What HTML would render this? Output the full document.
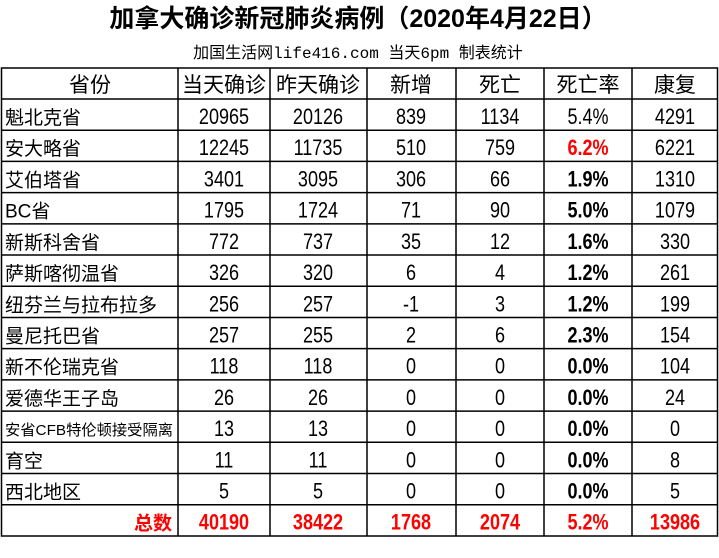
<!DOCTYPE html>
<html><head><meta charset="utf-8"><style>
html,body{margin:0;padding:0;background:#fff;}
svg{display:block;}
text{font-family:"Liberation Sans","Noto Sans CJK SC",sans-serif;}
</style></head><body>
<svg width="719" height="558" viewBox="0 0 719 558" xmlns="http://www.w3.org/2000/svg">
<text x="358" y="27" font-size="25" font-weight="bold" text-anchor="middle" fill="#000">加拿大确诊新冠肺炎病例（2020年4月22日）</text>
<text x="358" y="58" font-size="16" text-anchor="middle" fill="#000" style="font-family:'Liberation Mono','Noto Sans CJK SC',monospace">加国生活网life416.com 当天6pm 制表统计</text>
<g stroke="#000" stroke-width="1.5" fill="none">
<rect x="1.5" y="68" width="716" height="468"/>
<line x1="178" y1="68" x2="178" y2="536"/>
<line x1="270" y1="68" x2="270" y2="536"/>
<line x1="367" y1="68" x2="367" y2="536"/>
<line x1="456" y1="68" x2="456" y2="536"/>
<line x1="544" y1="68" x2="544" y2="536"/>
<line x1="632" y1="68" x2="632" y2="536"/>
</g>
<g id="rows"></g>
</svg>
<script>
var data=[
["魁北克省","20965","20126","839","1134","5.4%","4291"],
["安大略省","12245","11735","510","759","6.2%","6221"],
["艾伯塔省","3401","3095","306","66","1.9%","1310"],
["BC省","1795","1724","71","90","5.0%","1079"],
["新斯科舍省","772","737","35","12","1.6%","330"],
["萨斯喀彻温省","326","320","6","4","1.2%","261"],
["纽芬兰与拉布拉多","256","257","-1","3","1.2%","199"],
["曼尼托巴省","257","255","2","6","2.3%","154"],
["新不伦瑞克省","118","118","0","0","0.0%","104"],
["爱德华王子岛","26","26","0","0","0.0%","24"],
["安省CFB特伦顿接受隔离","13","13","0","0","0.0%","0"],
["育空","11","11","0","0","0.0%","8"],
["西北地区","5","5","0","0","0.0%","5"],
["总数","40190","38422","1768","2074","5.2%","13986"]];
var cx=[0,224,318,411,500,588,675];
var ns="http://www.w3.org/2000/svg";
var g=document.getElementById("rows");
function t(x,y,s,o){var e=document.createElementNS(ns,"text");e.setAttribute("x",x);e.setAttribute("y",y);e.textContent=s;for(var k in o)e.setAttribute(k,o[k]);g.appendChild(e);return e;}
var hdr=["省份","当天确诊","昨天确诊","新增","死亡","死亡率","康复"];
var hx=[90,224,318,411,500,588,675];
for(var i=0;i<7;i++)t(hx[i],92,hdr[i],{"font-size":"21","text-anchor":"middle"});
var y0base=99,rh=31.21;
for(var r=0;r<data.length;r++){
 var y0=y0base+r*rh;
 var l=document.createElementNS(ns,"line");l.setAttribute("x1",1.5);l.setAttribute("x2",717.5);l.setAttribute("y1",y0);l.setAttribute("y2",y0);l.setAttribute("stroke","#000");l.setAttribute("stroke-width","1.5");g.appendChild(l);
 var by=y0+25;var tot=r==13;
 var name=data[r][0];
 if(tot)t(172,by,name,{"font-size":"19","text-anchor":"end","fill":"#f00","font-weight":"bold"});
 else if(r==10)t(5,by-1,name,{"font-size":"15","textLength":"168","lengthAdjust":"spacingAndGlyphs"});
 else t(5,by,name,{"font-size":"19"});
 for(var c=1;c<7;c++){
  var o={"font-size":"22","text-anchor":"middle"};
  if(tot){o.fill="#f00";o["font-weight"]="bold";}
  if(c==5&&r>=1){o["font-weight"]="bold";}
  if(c==5&&r==1)o.fill="#f00";
  var e=t(cx[c],by,data[r][c],o);
  e.setAttribute("transform","translate("+cx[c]+" 0) scale(0.82 1) translate("+(-cx[c])+" 0)");
 }
}
</script>
</body></html>
